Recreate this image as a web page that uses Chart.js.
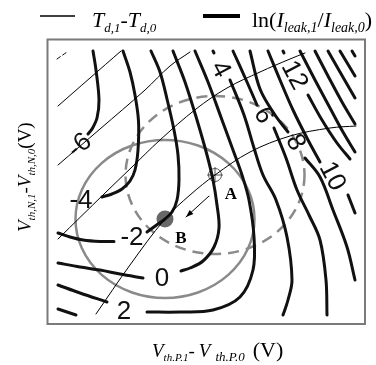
<!DOCTYPE html>
<html>
<head>
<meta charset="utf-8">
<script src="https://cdn.jsdelivr.net/npm/chart.js@4/dist/chart.umd.min.js"></script>
<style>
  html, body { margin: 0; padding: 0; background: #fff; }
  canvas { display: block; }
</style>
</head>
<body>
<canvas id="c" width="376" height="365" style="width:376px;height:365px"></canvas>
<script>
// Threshold-voltage shifts in mV, measured from the nominal corner B.
const dVthPRange = [-117.5, 200];
const dVthNRange = [-105, 179.5];

// Delay-change contours, T_d,1 - T_d,0 (thin lines)
const tdLine1 = [[-108,160],[-98,167]];
const tdLine2 = [[-107,113],[-75,141],[-44,168]];
const tdLine3 = [[-107,54],[-65,90],[-20,129],[5,153],[25,167]];
const tdLine4 = [[-107,-20],[-61,25],[-33,52],[-5,79],[31,110],[62,131],[95,147],[125,160],[140,166]];
const tdLine5 = [[-69,-95],[-35,-46],[0,0],[25,24],[50,44],[85,67],[125,83],[165,91],[191,93]];

// Leakage-ratio contours, ln(I_leak,1 / I_leak,0) (thick lines)
const lkM6   = [[-72,168],[-69,149],[-66,119],[-68,101],[-73,90],[-77,85]];
const lkM4   = [[-42,168],[-35,147],[-30,124],[-26.5,98],[-27,69],[-30,49],[-35,38],[-43,30],[-53,25],[-63,22]];
const lkM2a  = [[-14,168],[-5,147],[2,120],[9,89],[13,64],[14,39],[12,19],[7,7],[0,0],[-7,-5],[-18,-13]];
const lkM2b  = [[-51,-22.5],[-65,-22.5],[-82,-21],[-95,-18],[-107,-14]];
const lk0a   = [[8,168],[20,137],[32,99],[42,64],[48,39],[52,14],[54,-9],[49,-28],[38,-42],[25,-49],[16,-52]];
const lk0b   = [[-22,-59],[-45,-55],[-65,-51],[-85,-48],[-107,-44]];
const lk2a   = [[30,168],[43,137],[57,99],[68,69],[77,44],[84,19],[89,-18],[88,-51],[75,-78],[48,-91],[15,-93],[-18,-93]];
const lk2b   = [[-58,-83],[-85,-74],[-107,-66]];
const lk4a   = [[48,168],[49,166]];
const lk4    = [[65,139],[79,104],[89,71],[98,44],[111,19],[122,-18],[127,-61],[123,-81],[118,-96]];
const lk4b   = [[-107,-90],[-89,-96]];
const lk6a   = [[68,168],[82,137],[92,114]];
const lk6    = [[109,91],[121,61],[132,29],[144,4],[155,-21],[161,-61],[162,-96]];
const lk8a   = [[85,168],[95,130],[110,104],[123,87]];
const lk8    = [[140,61],[155,42],[168,9],[182,-28],[190,-61]];
const lk10a  = [[103,168],[115,139],[128,109],[143,79],[155,57]];
const lk10   = [[183,24],[190,6]];
const lk12a  = [[118,168],[119,166]];
const lk12   = [[143,124],[157,99],[172,76],[185,60]];
const lk14   = [[135,168],[150,139],[165,111],[178,87],[190,67]];
const lk16   = [[150,168],[163,143],[177,117],[190,95]];
const lk18   = [[163,168],[175,147],[190,121]];
const lk20   = [[175,168],[190,143]];
const lk22   = [[187,168],[190,163]];

// Contour level labels and where they sit (mV, mV)
const levelText = ['-6','-4','-2','0','2','4','6','8','10','12'];
const levelAtP  = [-86, -84, -33,  -3, -41,  56,  99, 131, 168, 130];
const levelAtN  = [ 74,  19, -18, -59, -92, 150, 104,  77,  43, 144];

// Operating points: B nominal, A shifted; process spread around each
const pointA = { x: 50, y: 44 };
const pointB = { x: 0,  y: 0 };
const spreadP = 89.5;
const spreadN = 79;
const shiftArrow = [[44,23],[21,2]];

// ---- styling ----
const THIN  = { borderColor: '#000', borderWidth: 1 };
const THICK = { borderColor: '#111', borderWidth: 3 };
const SERIF = '"Liberation Serif", "Times New Roman", serif';
const SANS  = '"Liberation Sans", Arial, sans-serif';
const labelAngle = { '-6': -40, '4': 62, '6': 62, '8': 62, '10': 62, '12': 62 };

function trace(pts, style, extra) {
  return Object.assign({
    data: pts.map(([x, y]) => ({ x, y })),
    showLine: true, pointRadius: 0, fill: false, tension: 0.35,
    borderCapStyle: 'round', borderJoinStyle: 'round'
  }, style, extra || {});
}

const datasets = [
  trace(tdLine1, THIN, { borderDash: [4, 3] }),
  trace(tdLine2, THIN), trace(tdLine3, THIN), trace(tdLine4, THIN), trace(tdLine5, THIN),
  ...[lkM6, lkM4, lkM2a, lkM2b, lk0a, lk0b, lk2a, lk2b, lk4a, lk4, lk4b,
      lk6a, lk6, lk8a, lk8, lk10a, lk10, lk12a, lk12, lk14, lk16, lk18, lk20, lk22]
      .map(p => trace(p, THICK)),
  trace(shiftArrow, THIN, { tension: 0 }),
  { data: [pointB], pointRadius: 8.5, backgroundColor: '#686868', borderWidth: 0, showLine: false },
  { data: [pointA], pointRadius: 6.5, pointStyle: 'circle', backgroundColor: 'rgba(0,0,0,0)',
    borderColor: '#555', borderWidth: 1, showLine: false },
  { data: [pointA], pointRadius: 8, pointStyle: 'cross', borderColor: '#555', borderWidth: 1, showLine: false }
];

function runs(ctx, parts, x, y) {
  let cx = x;
  for (const p of parts) {
    ctx.font = p.f;
    ctx.fillText(p.t, cx, y + (p.dy || 0));
    cx += ctx.measureText(p.t).width + (p.g || 0);
  }
  return cx;
}

const decor = {
  id: 'decor',
  beforeDatasetsDraw(chart) {
    const { ctx, scales: { x, y } } = chart;
    const ring = (pt, dash) => {
      const cx = x.getPixelForValue(pt.x), cy = y.getPixelForValue(pt.y);
      const rx = x.getPixelForValue(pt.x + spreadP) - cx;
      const ry = cy - y.getPixelForValue(pt.y + spreadN);
      ctx.save();
      ctx.strokeStyle = '#8a8a8a';
      ctx.lineWidth = 2.5;
      ctx.setLineDash(dash);
      ctx.beginPath();
      ctx.ellipse(cx, cy, rx, ry, 0, 0, Math.PI * 2);
      ctx.stroke();
      ctx.restore();
    };
    ring(pointB, []);
    ring(pointA, [11, 7]);
  },
  afterDatasetsDraw(chart) {
    const { ctx, chartArea: a, scales: { x, y } } = chart;
    ctx.save();
    // level labels
    ctx.fillStyle = '#111';
    ctx.textAlign = 'center';
    ctx.textBaseline = 'middle';
    ctx.font = '26px ' + SANS;
    levelText.forEach((t, i) => {
      ctx.save();
      ctx.translate(x.getPixelForValue(levelAtP[i]), y.getPixelForValue(levelAtN[i]));
      ctx.rotate((labelAngle[t] || 0) * Math.PI / 180);
      ctx.fillText(t, 0, 1);
      ctx.restore();
    });
    // arrow head of the shift A -> B
    const [p0, p1] = shiftArrow;
    const x0 = x.getPixelForValue(p0[0]), y0 = y.getPixelForValue(p0[1]);
    const x1 = x.getPixelForValue(p1[0]), y1 = y.getPixelForValue(p1[1]);
    const ang = Math.atan2(y1 - y0, x1 - x0);
    ctx.fillStyle = '#000';
    ctx.beginPath();
    ctx.moveTo(x1, y1);
    ctx.lineTo(x1 - 8 * Math.cos(ang - 0.35), y1 - 8 * Math.sin(ang - 0.35));
    ctx.lineTo(x1 - 8 * Math.cos(ang + 0.35), y1 - 8 * Math.sin(ang + 0.35));
    ctx.closePath();
    ctx.fill();
    // point names
    ctx.font = 'bold 17px ' + SERIF;
    ctx.fillText('A', x.getPixelForValue(pointA.x) + 16, y.getPixelForValue(pointA.y) + 20);
    ctx.fillText('B', x.getPixelForValue(pointB.x) + 16, y.getPixelForValue(pointB.y) + 20);
    // frame
    ctx.strokeStyle = '#7a7a7a';
    ctx.lineWidth = 2;
    ctx.strokeRect(a.left, a.top, a.right - a.left, a.bottom - a.top);
    ctx.restore();
  },
  afterDraw(chart) {
    const { ctx } = chart;
    ctx.save();
    ctx.fillStyle = '#000';
    ctx.textAlign = 'left';
    ctx.textBaseline = 'alphabetic';
    // legend
    ctx.strokeStyle = '#000';
    ctx.lineWidth = 1.5;
    ctx.beginPath(); ctx.moveTo(40, 16); ctx.lineTo(75, 16); ctx.stroke();
    ctx.lineWidth = 4;
    ctx.beginPath(); ctx.moveTo(203, 16); ctx.lineTo(240, 16); ctx.stroke();
    const it = 'italic 22px ' + SERIF, itS = 'italic 13px ' + SERIF, up = '22px ' + SERIF;
    runs(ctx, [{ t: 'T', f: it }, { t: 'd,1', f: itS, dy: 5 }, { t: '-', f: up },
               { t: 'T', f: it }, { t: 'd,0', f: itS, dy: 5 }], 92, 27);
    const it2S = 'italic 14px ' + SERIF;
    runs(ctx, [{ t: 'ln(', f: up }, { t: 'I', f: it }, { t: 'leak,1', f: it2S, dy: 5 },
               { t: '/', f: up }, { t: 'I', f: it }, { t: 'leak,0', f: it2S, dy: 5 },
               { t: ')', f: up }], 252, 27);
    // axis titles
    const vt = 'italic 19px ' + SERIF, vs = 'italic 11px ' + SERIF, vs2 = 'italic 13px ' + SERIF;
    const vu = '19px ' + SERIF, vu2 = '22px ' + SERIF;
    runs(ctx, [{ t: 'V', f: vt }, { t: 'th.P.1', f: vs, dy: 4 }, { t: '-', f: vu, g: 4 },
               { t: 'V', f: vt, g: 5 }, { t: 'th.P.0', f: vs2, dy: 4, g: 8 }, { t: '(V)', f: vu2 }], 152, 357);
    ctx.translate(31, 232);
    ctx.rotate(-Math.PI / 2);
    runs(ctx, [{ t: 'V', f: vt }, { t: 'th,N,1', f: vs, dy: 4 }, { t: '-', f: vu },
               { t: 'V', f: vt }, { t: 'th,N,0', f: vs, dy: 4 }, { t: '(V)', f: vu }], 0, 0);
    ctx.restore();
  }
};

new Chart(document.getElementById('c'), {
  type: 'scatter',
  data: { datasets },
  options: {
    responsive: false,
    animation: false,
    devicePixelRatio: 1,
    layout: { padding: { left: 47.5, top: 39.5, right: 11, bottom: 41 } },
    plugins: { legend: { display: false }, tooltip: { enabled: false } },
    scales: {
      x: { type: 'linear', min: dVthPRange[0], max: dVthPRange[1], display: false },
      y: { type: 'linear', min: dVthNRange[0], max: dVthNRange[1], display: false }
    }
  },
  plugins: [decor]
});
</script>
</body>
</html>
